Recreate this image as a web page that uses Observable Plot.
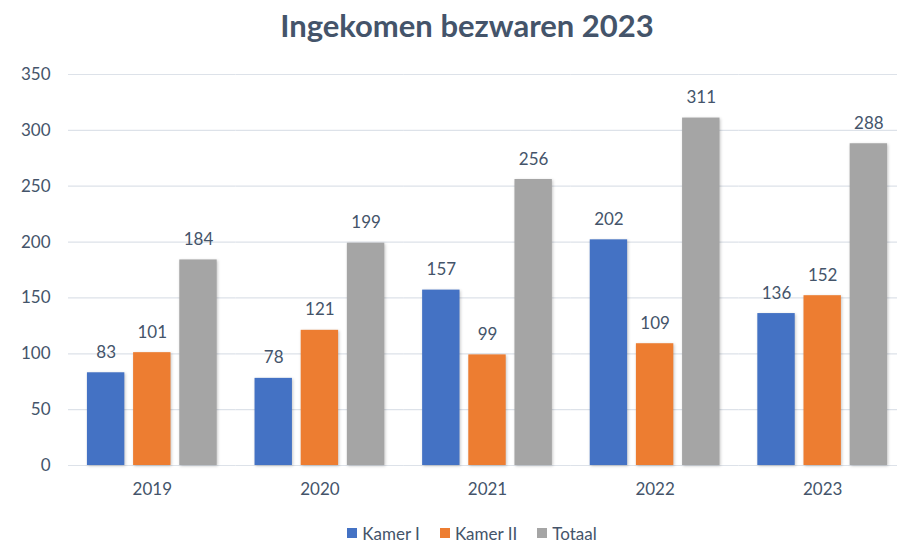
<!DOCTYPE html>
<html>
<head>
<meta charset="utf-8">
<script src="https://cdn.jsdelivr.net/npm/d3@7"></script>
<script src="https://cdn.jsdelivr.net/npm/@observablehq/plot@0.6"></script>
<style>
  html, body { margin: 0; padding: 0; background: #fff; }
  #wrap { width: 897px; height: 542px; overflow: hidden; position: relative; }
  #title { box-sizing: border-box; width: 897px; height: 58px; padding-top: 6px; padding-left: 37px;
    text-align: center; font-family: Lato, sans-serif; font-weight: 700; font-size: 31px; color: #44546a; line-height: normal; }
  #legend { box-sizing: border-box; width: 897px; height: 37px; display: flex; justify-content: center; align-items: center;
    padding-top: 19px; padding-left: 47px; font-family: Lato, sans-serif; font-size: 17px; color: #44546a; gap: 20px; }
  #legend .item { display: flex; align-items: center; gap: 5px; }
  #legend .sw { width: 10px; height: 10px; display: inline-block; }
  g[aria-label="bar"] rect { filter: drop-shadow(1px 1px 1.5px rgba(0,0,0,0.22)); }
</style>
</head>
<body>
<div id="wrap">
  <div id="title">Ingekomen bezwaren 2023</div>
  <div id="chart"></div>
  <div id="legend"></div>
</div>
<script>
const years = ["2019", "2020", "2021", "2022", "2023"];
const seriesNames = ["Kamer I", "Kamer II", "Totaal"];
const kamerI = [83, 78, 157, 202, 136];
const kamerII = [101, 121, 99, 109, 152];
const totaal = [184, 199, 256, 311, 288];
const colors = ["#4472c4", "#ed7d31", "#a5a5a5"];
const yTicks = [0, 50, 100, 150, 200, 250, 300, 350];

const seriesValues = [kamerI, kamerII, totaal];
const data = [];
years.forEach((year, i) => {
  seriesNames.forEach((s, j) => data.push({year, series: s, value: seriesValues[j][i]}));
});

const chart = Plot.plot({
  width: 897,
  height: 447,
  marginTop: 16,
  marginBottom: 40,
  marginLeft: 68,
  marginRight: -9,
  style: {fontFamily: "Lato, sans-serif", fontSize: "17px", color: "#44546a", background: "transparent", overflow: "visible"},
  fx: {domain: years, padding: 0, round: false, axis: "bottom", tickSize: 0, tickPadding: 17, label: null},
  x: {domain: seriesNames, axis: null, round: false, paddingInner: 0.19, paddingOuter: 0.41},
  y: {domain: [0, 350], ticks: yTicks, tickSize: 0, tickPadding: 18, label: null},
  color: {domain: seriesNames, range: colors},
  marks: [
    Plot.ruleY(yTicks, {stroke: "#dde2e9", strokeWidth: 1.2}),
    Plot.barY(data, {fx: "year", x: "series", y: "value", fill: "series"}),
    Plot.text(data, {fx: "year", x: "series", y: "value", text: d => String(d.value), lineAnchor: "bottom", dy: -15, fill: "#44546a", fontSize: 17})
  ]
});
document.getElementById("chart").appendChild(chart);

const legend = document.getElementById("legend");
seriesNames.forEach((s, i) => {
  const item = document.createElement("span");
  item.className = "item";
  const sw = document.createElement("span");
  sw.className = "sw";
  sw.style.background = colors[i];
  const t = document.createElement("span");
  t.textContent = s;
  item.appendChild(sw);
  item.appendChild(t);
  legend.appendChild(item);
});
</script>
</body>
</html>
